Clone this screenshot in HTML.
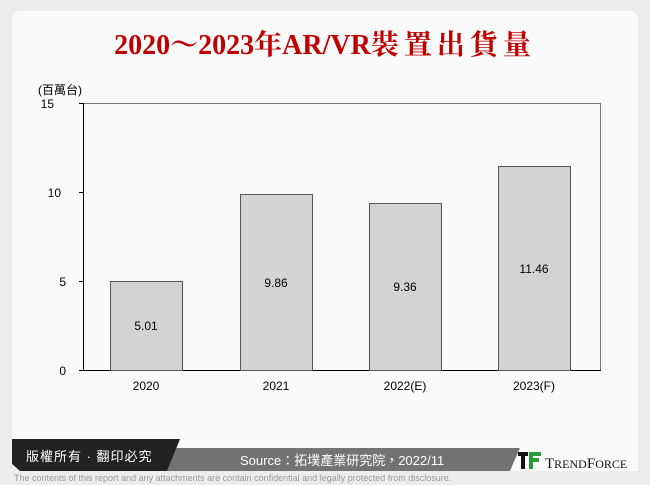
<!DOCTYPE html>
<html><head><meta charset="utf-8"><style>
body{margin:0;width:650px;height:485px;background:#ececec;position:relative;overflow:hidden;font-family:"Liberation Sans","Noto Sans CJK TC",sans-serif}
.card{position:absolute;left:12px;top:11px;width:626px;height:460px;background:#fafafa;border-radius:8px 8px 8px 8px;overflow:hidden}
.t{position:absolute;font-size:12px;color:#000}
</style></head><body>
<div class="card"></div>
<div style="position:absolute;left:0;top:23px;width:650px;text-align:center;font-family:'Liberation Serif','Noto Serif CJK SC',serif;font-weight:bold;font-size:28px;color:#c00000;white-space:nowrap">2020～2023年AR/VR<span style="letter-spacing:5px">裝置出貨量</span></div>
<div class="t" style="left:38px;top:81px">(百萬台)</div>
<svg style="position:absolute;left:0;top:0" width="650" height="485">
<rect x="83.5" y="103.5" width="517" height="267" fill="none" stroke="#777" stroke-width="1"/>
<line x1="83" y1="370.5" x2="601" y2="370.5" stroke="#000"/>
<line x1="83.5" y1="103" x2="83.5" y2="371" stroke="#000"/>
<g stroke="#000" stroke-width="1">
<line x1="79" y1="103.5" x2="83" y2="103.5"/><line x1="79" y1="192.5" x2="83" y2="192.5"/><line x1="79" y1="281.5" x2="83" y2="281.5"/><line x1="79" y1="370.5" x2="83" y2="370.5"/>
</g>
<g fill="#d3d3d3" stroke="#555" stroke-width="1">
<rect x="110.5" y="281.5" width="72" height="89"/>
<rect x="240.5" y="194.5" width="72" height="176"/>
<rect x="369.5" y="203.5" width="72" height="167"/>
<rect x="498.5" y="166.5" width="72" height="204"/>
</g>
<g font-family="Liberation Sans" font-size="12" fill="#000" text-anchor="middle">
<text x="146" y="330">5.01</text><text x="276" y="287">9.86</text><text x="405" y="291">9.36</text><text x="534" y="273">11.46</text>
<text x="146" y="390">2020</text><text x="276" y="390">2021</text><text x="405" y="390">2022(E)</text><text x="534" y="390">2023(F)</text>
<g text-anchor="end"><text x="54" y="108">15</text><text x="61" y="197">10</text><text x="66" y="286">5</text><text x="66" y="375">0</text></g>
</g>
<polygon points="170,448 520,448 510,471 162,471" fill="#737373"/>
<polygon points="12,439 180,439 167,471 20,471 12,464" fill="#222"/>
<polygon points="520,448 532,427 638,427 638,471 510,471" fill="#fafafa"/>
<text x="26" y="461" font-size="13" fill="#fff" font-family="Liberation Sans,Noto Sans CJK TC,sans-serif" letter-spacing="1">版權所有 · 翻印必究</text>
<text x="240" y="465" font-size="13" fill="#fff" font-family="Liberation Sans,Noto Sans CJK TC,sans-serif">Source：拓墣產業研究院，2022/11</text>
<rect x="518" y="452" width="10" height="4" fill="#111"/><rect x="521" y="456" width="4" height="13" fill="#111"/>
<rect x="529" y="452" width="12" height="4" fill="#2a9a3a"/><rect x="529" y="458" width="10" height="4" fill="#2a9a3a"/><rect x="529" y="452" width="4" height="17" fill="#2a9a3a"/>
<text x="545" y="468" font-size="15" fill="#111" font-family="Liberation Serif,serif">T<tspan font-size="12">REND</tspan>F<tspan font-size="12">ORCE</tspan></text>
<text x="14" y="481" font-size="9" fill="#999">The contents of this report and any attachments are contain confidential and legally protected from disclosure.</text>
</svg>
</body></html>
